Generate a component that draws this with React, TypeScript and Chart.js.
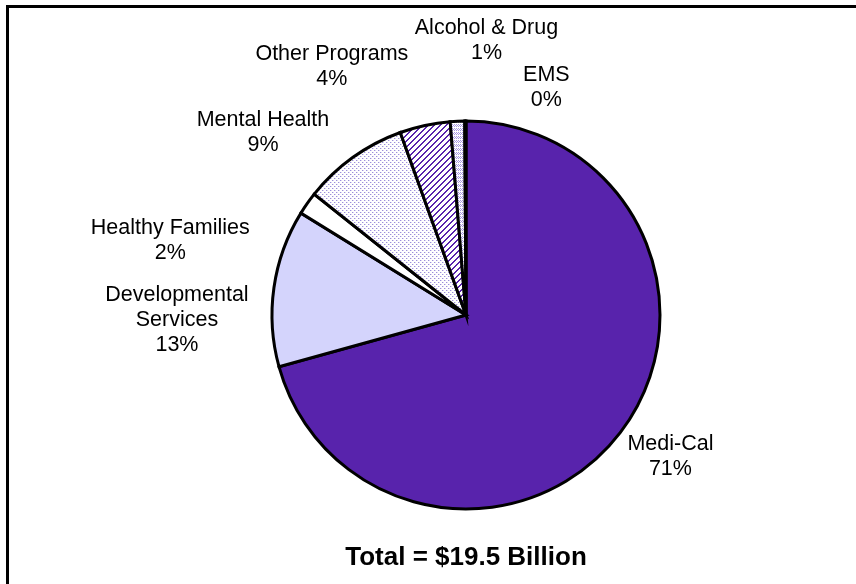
import React, { useEffect, useRef } from "react";
import { Chart, registerables } from "chart.js";

Chart.register(...registerables);

const categories = [
  "Medi-Cal",
  "Developmental Services",
  "Healthy Families",
  "Mental Health",
  "Other Programs",
  "Alcohol & Drug",
  "EMS",
];
const shares = [70.7, 13.1, 1.9, 8.8, 4.2, 1.2, 0.1];
const labelLines = [
  ["Medi-Cal", "71%"],
  ["Developmental", "Services", "13%"],
  ["Healthy Families", "2%"],
  ["Mental Health", "9%"],
  ["Other Programs", "4%"],
  ["Alcohol & Drug", "1%"],
  ["EMS", "0%"],
];
const titleText = "Total = $19.5 Billion";

// label nudges (px) from the slice's outer-edge mid point
const labelNudges = [
  [50, 24],
  [-97, 32],
  [-137, 37],
  [-90, -25],
  [-93, -59],
  [29, -81],
  [81, -33],
];

const PURPLE = "#5823AC";

function makePattern(kind: string): CanvasPattern | string {
  const c = document.createElement("canvas");
  const size = kind === "stripes" ? 6 : 4;
  c.width = size;
  c.height = size;
  const g = c.getContext("2d")!;
  g.fillStyle = "#ffffff";
  g.fillRect(0, 0, size, size);
  if (kind === "stripes") {
    g.fillStyle = PURPLE;
    for (let y = 0; y < size; y++) {
      for (let x = 0; x < size; x++) {
        if ((x + y) % 6 < 2) g.fillRect(x, y, 1, 1);
      }
    }
  } else if (kind === "dots") {
    g.fillStyle = "#9C8FDA";
    g.fillRect(0, 0, 1, 1);
    g.fillRect(2, 2, 1, 1);
    g.fillStyle = "#DCD6F2";
    g.fillRect(1, 0, 1, 1);
    g.fillRect(3, 2, 1, 1);
  } else if (kind === "check") {
    g.fillStyle = "#A898E2";
    g.fillRect(0, 0, 1, 1);
    g.fillRect(2, 0, 1, 1);
    g.fillRect(1, 1, 1, 1);
    g.fillRect(3, 1, 1, 1);
    g.fillRect(0, 2, 1, 1);
    g.fillRect(2, 2, 1, 1);
  }
  const p = g.createPattern(c, "repeat");
  return p || "#ffffff";
}

export default function App() {
  const ref = useRef<HTMLCanvasElement | null>(null);

  useEffect(() => {
    const canvas = ref.current;
    if (!canvas) return;

    const colors = [
      PURPLE,
      "#D4D4FC",
      "#FFFFFF",
      makePattern("dots"),
      makePattern("stripes"),
      makePattern("check"),
      "#FFFFFF",
    ];

    const framePlugin = {
      id: "frame",
      beforeDraw(chart: any) {
        const ctx = chart.ctx;
        ctx.save();
        ctx.fillStyle = "#ffffff";
        ctx.fillRect(0, 0, chart.width, chart.height);
        ctx.fillStyle = "#000000";
        ctx.fillRect(6, 5, chart.width - 6, 3);
        ctx.fillRect(6, 5, 3, chart.height - 5);
        ctx.restore();
      },
    };

    const labelPlugin = {
      id: "pieLabels",
      afterDraw(chart: any) {
        const ctx = chart.ctx;
        const meta = chart.getDatasetMeta(0);
        ctx.save();
        ctx.fillStyle = "#000000";
        ctx.textAlign = "center";
        ctx.textBaseline = "middle";
        ctx.font = "21.5px 'Liberation Sans', Arial, sans-serif";
        const lh = 25;
        meta.data.forEach((arc: any, i: number) => {
          const { x, y, startAngle, endAngle, outerRadius } = arc.getProps(
            ["x", "y", "startAngle", "endAngle", "outerRadius"],
            true
          );
          const mid = (startAngle + endAngle) / 2;
          const ax = x + Math.cos(mid) * outerRadius + labelNudges[i][0];
          const ay = y + Math.sin(mid) * outerRadius + labelNudges[i][1];
          const lines = labelLines[i];
          const top = ay - ((lines.length - 1) * lh) / 2;
          lines.forEach((t, k) => ctx.fillText(t, ax, top + k * lh));
        });
        // title
        ctx.font = "bold 26px 'Liberation Sans', Arial, sans-serif";
        ctx.textBaseline = "alphabetic";
        const cx = meta.data[0].x;
        ctx.fillText(titleText, cx, 565);
        ctx.restore();
      },
    };

    const chart = new Chart(canvas, {
      type: "pie",
      data: {
        labels: categories,
        datasets: [
          {
            data: shares,
            backgroundColor: colors as any,
            borderColor: "#000000",
            borderWidth: 3,
            borderJoinStyle: "miter",
          } as any,
        ],
      },
      options: {
        responsive: false,
        animation: false,
        events: [],
        layout: { padding: { left: 270.5, right: 194.5, top: 119.5, bottom: 73.5 } },
        plugins: {
          legend: { display: false },
          tooltip: { enabled: false },
          title: { display: false },
        },
      },
      plugins: [framePlugin, labelPlugin],
    });

    return () => chart.destroy();
  }, []);

  return (
    <div style={{ position: "fixed", left: 0, top: 0, width: 856, height: 584, background: "#fff" }}>
      <canvas ref={ref} width={856} height={584} style={{ display: "block" }} />
    </div>
  );
}
